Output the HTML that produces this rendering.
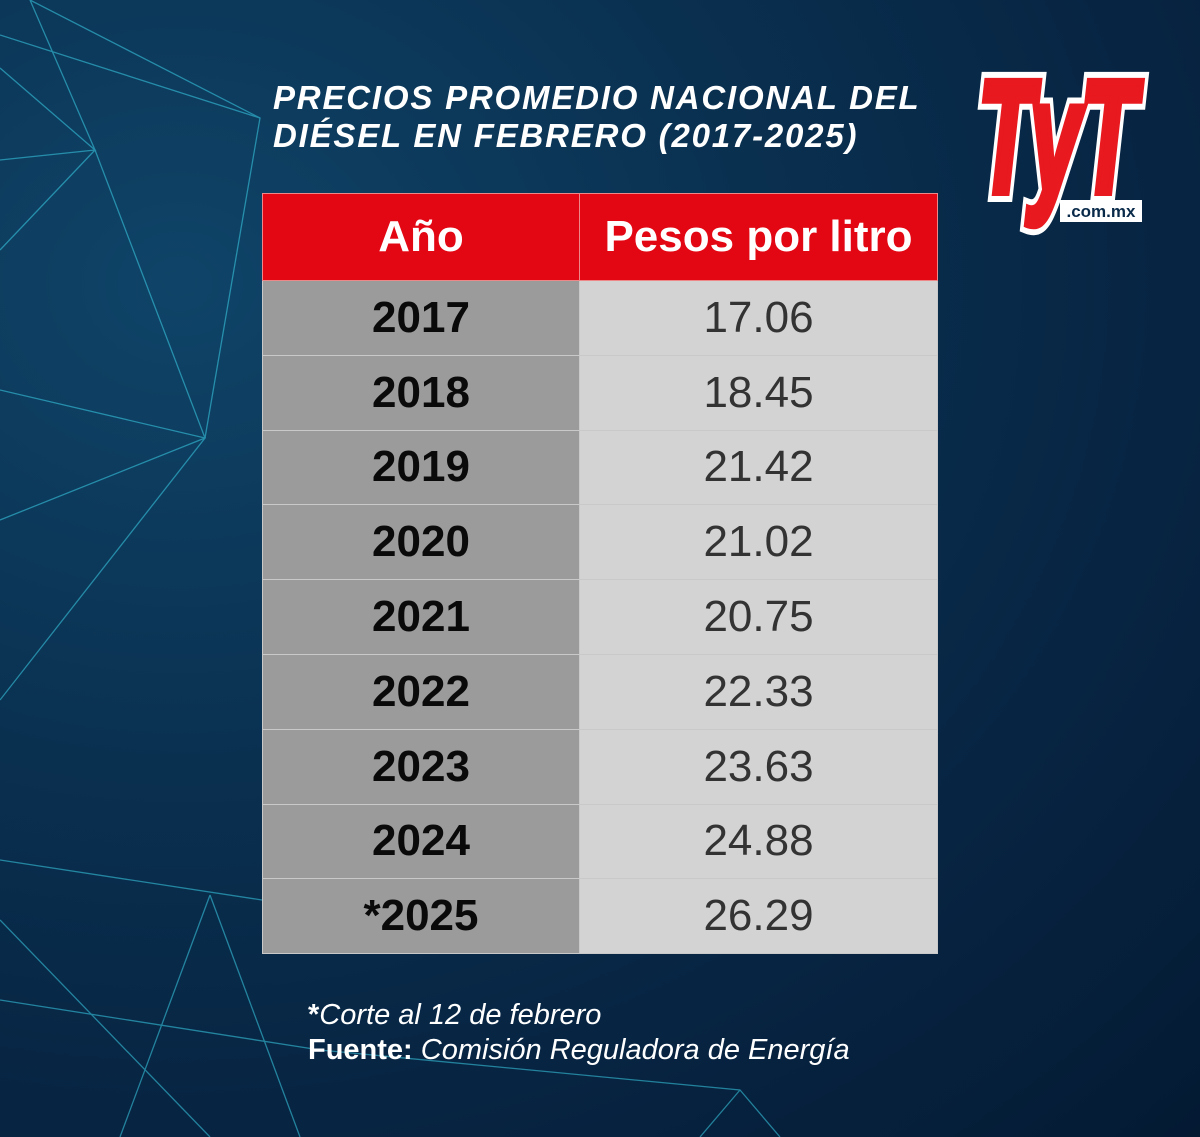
<!DOCTYPE html>
<html><head><meta charset="utf-8"><style>
body{margin:0;width:1200px;height:1137px;overflow:hidden;font-family:"Liberation Sans",sans-serif;}
.bg{position:absolute;left:0;top:0;width:1200px;height:1137px;background:radial-gradient(ellipse at 15% 25%,#0f4468 0%,#0a3050 40%,#072442 70%,#041a33 100%);}
svg.l{position:absolute;left:0;top:0}
.title{position:absolute;left:273px;top:79px;color:#fff;font-weight:bold;font-style:italic;font-size:33px;line-height:38px;letter-spacing:1.8px;}
table{position:absolute;left:262px;top:193px;border-collapse:collapse;width:676px;}
td{padding:0;text-align:center;border:1px solid #c9c9c9;}
.h td{background:#e30613;color:#fff;font-weight:bold;font-size:44px;height:86px;border-color:#e88;}
.y{background:#9b9b9b;color:#0a0a0a;font-weight:bold;font-size:44px;width:316px;}
.v{background:#d3d3d3;color:#333;font-size:44px;}
tr.r td{height:73.8px;}
.note{position:absolute;left:308px;top:998px;color:#fff;font-style:italic;font-size:29px;line-height:35px;}
</style></head><body>
<div class="bg"></div>
<svg class="l" width="1200" height="1137" stroke="#3ad0e8" stroke-width="1.3" fill="none" opacity="0.55">
<polyline points="0,68 95,150 0,160"/>
<polyline points="30,0 260,118 205,438 0,520"/>
<polyline points="0,35 260,118"/>
<polyline points="30,0 95,150 205,438"/>
<polyline points="0,390 205,438 0,700"/>
<polyline points="95,150 0,250"/>
<polyline points="0,860 262,900"/>
<polyline points="210,895 120,1137"/>
<polyline points="210,895 300,1137"/>
<polyline points="0,1000 320,1050 740,1090 780,1137"/>
<polyline points="740,1090 700,1137"/>
<polyline points="0,920 210,1137"/>
</svg>
<div class="title">PRECIOS PROMEDIO NACIONAL DEL<br>DIÉSEL EN FEBRERO (2017-2025)</div>
<svg class="l" width="1200" height="300">
<text x="978" y="192" font-family="Liberation Sans" font-weight="bold" font-style="italic" font-size="160" textLength="158" lengthAdjust="spacingAndGlyphs" fill="#fff" stroke="#fff" stroke-width="20" stroke-linejoin="miter">TyT</text>
<text x="978" y="192" font-family="Liberation Sans" font-weight="bold" font-style="italic" font-size="160" textLength="158" lengthAdjust="spacingAndGlyphs" fill="#e8191f" stroke="#e8191f" stroke-width="8" stroke-linejoin="miter">TyT</text>
<rect x="1060" y="200" width="82" height="22" fill="#fff"/>
<text x="1101" y="217" font-family="Liberation Sans" font-weight="bold" font-size="17" text-anchor="middle" fill="#0a2a4a">.com.mx</text>
</svg>
<table>
<tr class="h"><td>Año</td><td>Pesos por litro</td></tr>
<tr class="r"><td class="y">2017</td><td class="v">17.06</td></tr>
<tr class="r"><td class="y">2018</td><td class="v">18.45</td></tr>
<tr class="r"><td class="y">2019</td><td class="v">21.42</td></tr>
<tr class="r"><td class="y">2020</td><td class="v">21.02</td></tr>
<tr class="r"><td class="y">2021</td><td class="v">20.75</td></tr>
<tr class="r"><td class="y">2022</td><td class="v">22.33</td></tr>
<tr class="r"><td class="y">2023</td><td class="v">23.63</td></tr>
<tr class="r"><td class="y">2024</td><td class="v">24.88</td></tr>
<tr class="r"><td class="y">*2025</td><td class="v">26.29</td></tr>
</table>
<div class="note"><b style="font-style:normal">*</b>Corte al 12 de febrero<br><b style="font-style:normal">Fuente:</b> Comisión Reguladora de Energía</div>
</body></html>
